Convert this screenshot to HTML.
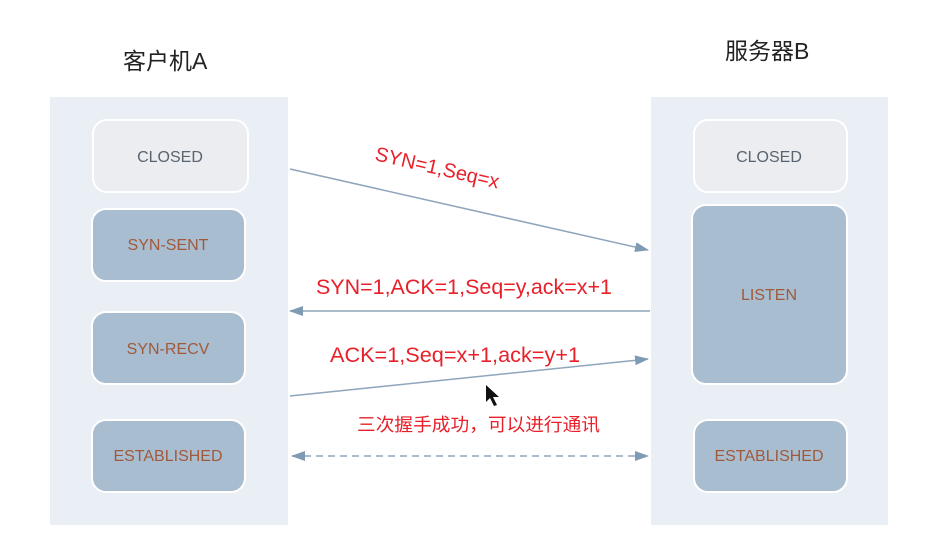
<!DOCTYPE html>
<html><head><meta charset="utf-8"><style>body{margin:0;background:#fff}svg{display:block}</style></head><body>
<svg width="931" height="550" xmlns="http://www.w3.org/2000/svg" font-family="Liberation Sans, Noto Sans CJK SC, sans-serif">
<defs>
<marker id="b" viewBox="0 0 14 10" markerWidth="14" markerHeight="10" refX="13" refY="5" orient="auto-start-reverse" markerUnits="userSpaceOnUse"><path d="M0,0 L14,5 L0,10z" fill="#7f9ab3"/></marker></defs>
<text x="123" y="69" font-size="23" fill="#222">客户机A</text>
<text x="725" y="59" font-size="23" fill="#222">服务器B</text>
<rect x="50" y="97" width="238" height="428" fill="#e9eff5"/>
<rect x="651" y="97" width="237" height="428" fill="#e9eff5"/>
<g stroke="#fff" stroke-width="2">
<rect x="93" y="120" width="155" height="72" rx="14" fill="#ebedf1"/>
<rect x="92" y="209" width="153" height="72" rx="14" fill="#a9bdd1"/>
<rect x="92" y="312" width="153" height="72" rx="14" fill="#a9bdd1"/>
<rect x="92" y="420" width="153" height="72" rx="14" fill="#a9bdd1"/>
<rect x="694" y="120" width="153" height="72" rx="14" fill="#ebedf1"/>
<rect x="692" y="205" width="155" height="179" rx="14" fill="#a9bdd1"/>
<rect x="694" y="420" width="153" height="72" rx="14" fill="#a9bdd1"/>
</g>
<g font-size="16" text-anchor="middle">
<text x="170" y="162" fill="#5a6470">CLOSED</text>
<text x="168" y="250" fill="#a05a3a">SYN-SENT</text>
<text x="168" y="354" fill="#a05a3a">SYN-RECV</text>
<text x="168" y="461" fill="#a05a3a">ESTABLISHED</text>
<text x="769" y="162" fill="#5a6470">CLOSED</text>
<text x="769" y="300" fill="#a05a3a">LISTEN</text>
<text x="769" y="461" fill="#a05a3a">ESTABLISHED</text>
</g>
<g stroke="#8ea5bb" stroke-width="1.5" fill="none">
<line x1="290" y1="169" x2="648" y2="250" marker-end="url(#b)"/>
<line x1="650" y1="311" x2="290" y2="311" marker-end="url(#b)"/>
<line x1="290" y1="396" x2="648" y2="359" marker-end="url(#b)"/>
<line x1="292" y1="456" x2="648" y2="456" stroke-dasharray="7,5" marker-start="url(#b)" marker-end="url(#b)"/>
</g>
<g fill="#e8202a" font-size="21">
<text x="0" y="0" font-size="20" transform="translate(374,160) rotate(13)">SYN=1,Seq=x</text>
<text x="316" y="294" textLength="296" lengthAdjust="spacingAndGlyphs">SYN=1,ACK=1,Seq=y,ack=x+1</text>
<text x="330" y="362" textLength="250" lengthAdjust="spacingAndGlyphs">ACK=1,Seq=x+1,ack=y+1</text>
<text x="357" y="431" font-size="18" textLength="243" lengthAdjust="spacingAndGlyphs">三次握手成功，可以进行通讯</text>
</g>
<path d="M486,385 L486,402 L490,398 L494,406 L497,405 L493,397 L499,397z" fill="#111"/>
</svg>
</body></html>
